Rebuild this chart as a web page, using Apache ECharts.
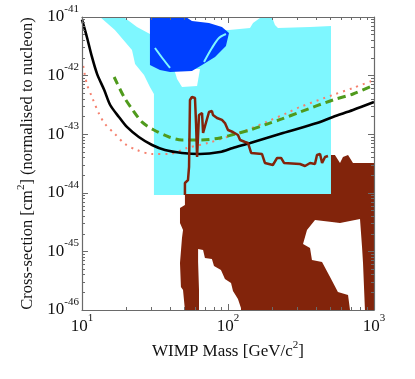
<!DOCTYPE html>
<html><head><meta charset="utf-8">
<script src="https://cdn.jsdelivr.net/npm/echarts@6/dist/echarts.min.js"></script>
<style>html,body{margin:0;padding:0;background:#fff}#c{width:415px;height:379px}</style>
</head><body><div id="c"></div>
<script>
// ---- axis ticks ----
const massDecades = [10, 100, 1000];
const sigmaDecades = [1e-46, 1e-45, 1e-44, 1e-43, 1e-42, 1e-41];
const minorSteps = [2, 3, 4, 5, 6, 7, 8, 9];

// ---- limit curves (mass GeV/c^2, cross-section cm^2) ----
const blackMass = [10, 10.8, 11.7, 12.7, 14.2, 15.6, 17.9, 20.3, 24.5, 30.2, 37.0, 48.4, 64.3, 88.1, 108, 142, 238, 407, 523, 718, 1000];
const blackSigma = [9.0e-42, 4.56e-42, 2.08e-42, 1.06e-42, 5.68e-43, 3.15e-43, 1.97e-43, 1.33e-43, 8.96e-44, 6.54e-44, 5.37e-44, 4.78e-44, 4.59e-44, 4.97e-44, 5.82e-44, 7.08e-44, 1.05e-43, 1.55e-43, 1.97e-43, 2.59e-43, 3.54e-43];

const greenMass = [16.6, 19.4, 22.0, 25.8, 31.1, 39.5, 48.4, 64.3, 88.1, 112, 142, 185, 234, 311, 523, 718, 1000];
const greenSigma = [9.46e-43, 4.32e-43, 2.69e-43, 1.61e-43, 1.18e-43, 8.96e-44, 7.96e-44, 7.96e-44, 8.61e-44, 1.01e-43, 1.18e-43, 1.49e-43, 1.82e-43, 2.39e-43, 3.84e-43, 4.85e-43, 6.92e-43];

const redMass = [10.2, 10.8, 11.7, 13.1, 14.4, 16.8, 19.7, 23.8, 30.2, 39.5, 52.4, 72.9, 98.4, 135, 182, 254, 311, 523, 718, 1000];
const redSigma = [1.46e-42, 7.19e-43, 4.32e-43, 2.21e-43, 1.49e-43, 1.01e-43, 6.81e-44, 5.37e-44, 4.59e-44, 4.59e-44, 5.82e-44, 7.08e-44, 8.96e-44, 1.18e-43, 1.61e-43, 2.30e-43, 2.91e-43, 4.67e-43, 6.14e-43, 8.41e-43];

const brownLineMass = [50.7, 50.7, 53.2, 54.1, 54.9, 56.6, 59.4, 60.4, 61.4, 62.4, 63.3, 66.4, 67.5, 69.5, 74.1, 77.6, 78.9, 84.1, 90.9, 95.3, 100, 108, 117, 121, 131, 137, 144, 171, 179, 203, 217, 231, 242, 311, 337, 365, 394, 407, 427, 441, 462, 484];
const brownLineSigma = [9.2e-45, 1.47e-44, 1.65e-44, 2.76e-44, 3.84e-43, 4.32e-43, 4.15e-43, 1.55e-43, 4.08e-44, 4.08e-44, 2.13e-43, 2.30e-43, 1.05e-43, 1.05e-43, 2.39e-43, 2.49e-43, 2.13e-43, 1.89e-43, 1.75e-43, 1.55e-43, 1.18e-43, 1.09e-43, 9.69e-44, 7.96e-44, 7.36e-44, 7.08e-44, 4.78e-44, 4.59e-44, 3.23e-44, 2.98e-44, 3.93e-44, 3.93e-44, 3.23e-44, 3.10e-44, 2.87e-44, 3.23e-44, 3.10e-44, 4.42e-44, 4.59e-44, 3.23e-44, 4.08e-44, 4.25e-44];

// ---- allowed / excluded regions (polygon outlines) ----
const cyanMass = [13.3, 19.7, 23.8, 29.2, 64.3, 101.6, 141.5, 148.4, 165.5, 179.2, 200, 209.8, 219.9, 364.5, 507.4, 507.4, 31.1, 31.1, 29.2, 26.6, 23.1, 22.0, 16.8];
const cyanSigma = [1e-41, 9.62e-42, 6.75e-42, 5.13e-42, 6.0e-42, 6.0e-42, 6.49e-42, 7.91e-42, 9.62e-42, 1e-41, 1e-41, 7.30e-42, 6.49e-42, 6.75e-42, 7.02e-42, 9.17e-45, 9.17e-45, 4.85e-43, 6.39e-43, 1.02e-42, 1.58e-42, 2.74e-42, 6.0e-42];

const notchMass = [42.7, 64.3, 61.4, 48.4, 44.8];
const notchSigma = [1.30e-42, 1.30e-42, 6.65e-43, 6.39e-43, 8.75e-43];

const blueMass = [29.2, 51.5, 56.6, 74.1, 90.9, 101.6, 96.8, 81.5, 66.4, 56.6, 40.1, 34.2, 29.2];
const blueSigma = [1e-41, 1e-41, 8.55e-42, 7.91e-42, 6.75e-42, 5.33e-42, 3.20e-42, 2.08e-42, 1.52e-42, 1.20e-42, 1.15e-42, 1.25e-42, 1.52e-42];

const blueLine1Mass = [31.6, 35.9, 40.1];
const blueLine1Sigma = [2.96e-42, 1.92e-42, 1.35e-42];
const blueLine2Mass = [68.5, 77.6, 86.7, 96.8];
const blueLine2Sigma = [1.71e-42, 2.96e-42, 4.38e-42, 5.13e-42];

const brownMass = [50.7, 507.4, 507.4, 540, 585, 613, 664, 718, 1000, 1000, 50.7, 49.2, 47.6, 46.9, 48.4, 49.2, 46.9, 46.9, 50.7];
const brownSigma = [9.5e-45, 9.5e-45, 4.42e-44, 4.42e-44, 3.23e-44, 4.08e-44, 4.42e-44, 3.23e-44, 3.23e-44, 1e-46, 1e-46, 2.19e-46, 2.47e-46, 6.34e-46, 1.69e-45, 2.32e-45, 3.05e-45, 5.51e-45, 6.19e-45];

const hole1Mass = [62.4, 67.5, 69.5, 77.6, 80.2, 89.5, 95.3, 104.9, 108.2, 117.0, 122.7, 122.7, 63.3, 63.3, 62.4];
const hole1Sigma = [1.10e-45, 1.06e-45, 7.71e-46, 7.41e-46, 5.64e-46, 4.82e-46, 3.38e-46, 2.89e-46, 2.11e-46, 1.54e-46, 1.08e-46, 1e-46, 1e-46, 2.19e-46, 6.59e-46];

const hole2Mass = [394.4, 515, 585, 802, 828, 841, 867, 685, 664, 566, 500, 440.6, 375.9, 364.5, 326.5, 347.6];
const hole2Sigma = [3.44e-45, 3.18e-45, 3.05e-45, 3.57e-45, 1.19e-45, 6.34e-46, 1e-46, 1e-46, 1.80e-46, 2.03e-46, 3.66e-46, 6.59e-46, 7.13e-46, 1.14e-45, 1.34e-45, 2.32e-45];

// ---- build ----
const L = Math.log10;
const pts = (m, s) => m.map((v, i) => [L(v), L(s[i])]);
const minorMass = [], minorSigma = [];
massDecades.slice(0, -1).forEach(d => minorSteps.forEach(k => minorMass.push(L(k * d))));
sigmaDecades.slice(0, -1).forEach(d => minorSteps.forEach(k => minorSigma.push(L(k * d))));

const FONT = 'Liberation Serif';
const AX = '#6a6a6a';
const tickRich = {
  b: { fontFamily: FONT, fontSize: 17, color: '#111', lineHeight: 27 },
  s: { fontFamily: FONT, fontSize: 11, color: '#111', lineHeight: 13, verticalAlign: 'top' }
};
const nameRich = (fs) => ({
  b: { fontFamily: FONT, fontSize: fs, color: '#111', lineHeight: 24 },
  s: { fontFamily: FONT, fontSize: 11, color: '#111', lineHeight: 13, verticalAlign: 'top' }
});
const C = { cyan: '#7ef7ff', blue: '#0040ff', brown: '#82240b', green: '#4f9a1c', red: '#f5806e' };

function poly(data, color, z) {
  return {
    type: 'custom', silent: true, z: z, data: data, encode: { x: 0, y: 1 },
    renderItem: (p, api) => {
      if (p.dataIndex !== 0) return null;
      return { type: 'polygon', shape: { points: data.map(d => api.coord(d)) }, style: { fill: color } };
    }
  };
}
function line(data, color, width, type, z, smooth) {
  return {
    type: 'line', silent: true, z: z, data: data, showSymbol: false, symbol: 'none',
    smooth: smooth, lineStyle: { color: color, width: width, type: type }
  };
}
function axis(dim, pos, major, opt) {
  const isX = dim === 'x';
  const base = {
    type: 'value', position: pos, z: 10,
    min: isX ? 1 : -46, max: isX ? 3 : -41, interval: 1,
    splitLine: { show: false },
    axisLine: { show: major, onZero: false, lineStyle: { color: AX, width: 1.2 } },
    axisTick: { show: true, inside: true, length: major ? 6 : 3, lineStyle: { color: AX, width: 1 } },
    axisLabel: { show: false }
  };
  if (!major) base.axisTick.customValues = isX ? minorMass : minorSigma;
  return Object.assign(base, opt || {});
}

const chart = echarts.init(document.getElementById('c'), null, { renderer: 'canvas' });
chart.setOption({
  animation: false,
  backgroundColor: '#fff',
  grid: { left: 82, top: 17, right: 41, bottom: 69 },
  xAxis: [
    axis('x', 'bottom', true, {
      axisLabel: { show: true, margin: 3, formatter: v => '{b|10}{s|' + Math.round(v) + '}', rich: tickRich },
      name: '{b|WIMP Mass [GeV/c}{s|2}{b|]}', nameLocation: 'middle', nameGap: 16,
      nameTextStyle: { rich: nameRich(17) }
    }),
    axis('x', 'top', true),
    axis('x', 'bottom', false),
    axis('x', 'top', false)
  ],
  yAxis: [
    axis('y', 'left', true, {
      axisLabel: { show: true, margin: 3, formatter: v => '{b|10}{s|' + Math.round(v) + '}', rich: tickRich },
      name: '{b|Cross-section [cm}{s|2}{b|] (normalised to nucleon)}', nameLocation: 'middle', nameGap: 37, nameRotate: 90,
      nameTextStyle: { rich: nameRich(16.5) }
    }),
    axis('y', 'right', true),
    axis('y', 'left', false),
    axis('y', 'right', false)
  ],
  series: [
    poly(pts(cyanMass, cyanSigma), C.cyan, 1),
    poly(pts(notchMass, notchSigma), '#ffffff', 1),
    poly(pts(blueMass, blueSigma), C.blue, 1),
    line(pts(blueLine1Mass, blueLine1Sigma), C.cyan, 2, 'solid', 2, 0.3),
    line(pts(blueLine2Mass, blueLine2Sigma), C.cyan, 2, 'solid', 2, 0.3),
    poly(pts(brownMass, brownSigma), C.brown, 1),
    poly(pts(hole1Mass, hole1Sigma), '#ffffff', 1),
    poly(pts(hole2Mass, hole2Sigma), '#ffffff', 1),
    line(pts(redMass, redSigma), C.red, 2, [2, 5], 3, 0.3),
    line(pts(greenMass, greenSigma), C.green, 3, [8, 5], 3, 0.3),
    line(pts(blackMass, blackSigma), '#000', 2.6, 'solid', 3, 0.3),
    line(pts(brownLineMass, brownLineSigma), C.brown, 2.5, 'solid', 3, false)
  ]
});
</script></body></html>
